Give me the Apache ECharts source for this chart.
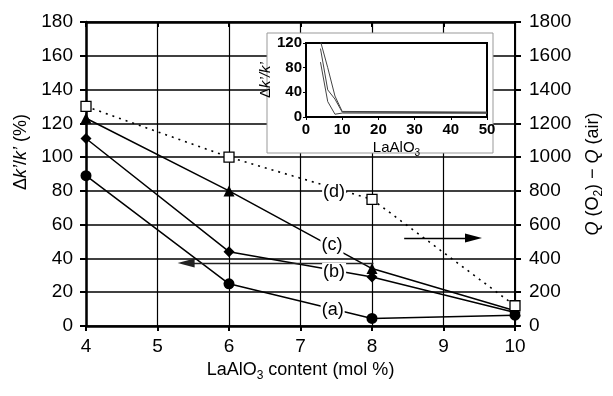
<!DOCTYPE html>
<html>
<head>
<meta charset="utf-8">
<script src="https://cdn.jsdelivr.net/npm/echarts@6/dist/echarts.min.js"></script>
<style>html,body{margin:0;padding:0;background:#fff}#c{width:613px;height:396px}</style>
</head>
<body>
<div id="c"></div>
<script>
// ---- data ----
const xVals = [4, 6, 8, 10];
const seriesA = [89, 25, 4.5, 6.4];     // (a) Δk'/k' %
const seriesB = [111, 44, 29, 8];       // (b)
const seriesC = [123, 80, 34, 9];       // (c)
const seriesD = [1300, 1000, 750, 120]; // (d) Q(O2)-Q(air), right axis
const leftTicks = [0, 180, 20];
const rightTicks = [0, 1800, 200];
const xTicks = [4, 10, 1];
// inset (wide range) data
const insetX = [4, 6, 8, 10, 50];
const insetA = [89, 25, 4.5, 6.4, 6];
const insetB = [111, 44, 29, 8, 7];
const insetC = [123, 80, 34, 9, 8];
// annotations (data coordinates)
const labelsLeft = [['(a)', 7.45, 9.5], ['(b)', 7.47, 32], ['(c)', 7.44, 48]];
const labelsRight = [['(d)', 7.47, 795]];
const arrowLeft = [[8.02, 37.3], [5.4, 37.3]];
const arrowRight = [[8.45, 521], [9.42, 521]];

const FONT = 'Liberation Sans, Arial, sans-serif';
const chart = echarts.init(document.getElementById('c'), null, {renderer: 'canvas'});

function pts(xs, ys) { return xs.map((x, i) => [x, ys[i]]); }
const annLabel = {show: true, position: 'inside', formatter: p => p.name, fontSize: 18, fontFamily: FONT, color: '#000', opacity: 1, backgroundColor: '#fff', padding: [0, 1]};

const option = {
  animation: false,
  backgroundColor: '#fff',
  textStyle: {fontFamily: FONT, color: '#000'},
  graphic: [{
    type: 'rect', z: 10,
    shape: {x: 267, y: 33, width: 226, height: 120},
    style: {fill: '#fff', stroke: '#999', lineWidth: 1}
  }],
  grid: [
    {left: 86, right: 93, top: 22, bottom: 70},
    {left: 306, right: 126, top: 43, bottom: 279, show: true, borderColor: '#000', borderWidth: 2, backgroundColor: '#fff', z: 11}
  ],
  xAxis: [
    {
      type: 'value', gridIndex: 0, min: xTicks[0], max: xTicks[1], interval: xTicks[2],
      name: '{n|LaAlO}{s|3}{n| content (mol %)}', nameLocation: 'middle', nameGap: 31,
      nameTextStyle: {rich: {n: {fontSize: 18, lineHeight: 24, fontFamily: FONT, color: '#000'}, s: {fontSize: 12, lineHeight: 12, verticalAlign: 'bottom', fontFamily: FONT, color: '#000'}}},
      axisLine: {onZero: false, lineStyle: {color: '#000', width: 2.5}},
      axisTick: {length: 5, lineStyle: {color: '#000', width: 2}},
      axisLabel: {fontSize: 19, color: '#000', margin: 11, fontFamily: FONT},
      splitLine: {show: true, lineStyle: {color: '#000', width: 1.2}}
    },
    {
      type: 'value', gridIndex: 0, position: 'top', min: xTicks[0], max: xTicks[1], interval: xTicks[2],
      axisLine: {onZero: false, lineStyle: {color: '#000', width: 2.5}},
      axisTick: {inside: true, length: 5, lineStyle: {color: '#000', width: 2}},
      axisLabel: {show: false}, splitLine: {show: false}
    },
    {
      type: 'value', gridIndex: 1, min: 0, max: 50, interval: 10, z: 12,
      name: '{n|LaAlO}{s|3}', nameLocation: 'middle', nameGap: 21,
      nameTextStyle: {rich: {n: {fontSize: 15, lineHeight: 20, fontFamily: FONT, color: '#000'}, s: {fontSize: 10, lineHeight: 10, verticalAlign: 'bottom', fontFamily: FONT, color: '#000'}}},
      axisLine: {onZero: false, lineStyle: {color: '#000', width: 2}},
      axisTick: {length: 3, lineStyle: {color: '#000', width: 1}},
      axisLabel: {fontSize: 15, fontWeight: 'bold', color: '#000', margin: 5, fontFamily: FONT},
      splitLine: {show: false}
    }
  ],
  yAxis: [
    {
      type: 'value', gridIndex: 0, min: leftTicks[0], max: leftTicks[1], interval: leftTicks[2],
      name: '{n|Δ}{i|k’}{n|/}{i|k’}{n| (%)}', nameLocation: 'middle', nameGap: 49, nameRotate: 90,
      nameTextStyle: {padding: [0, 0, 0, 44], rich: {n: {fontSize: 18, fontFamily: FONT, color: '#000'}, i: {fontSize: 18, fontStyle: 'italic', fontFamily: FONT, color: '#000'}}},
      axisLine: {onZero: false, lineStyle: {color: '#000', width: 2.5}},
      axisTick: {length: 6, lineStyle: {color: '#000', width: 2}},
      axisLabel: {fontSize: 19, color: '#000', margin: 13, fontFamily: FONT},
      splitLine: {show: true, lineStyle: {color: '#000', width: 1.5}}
    },
    {
      type: 'value', gridIndex: 0, position: 'right', min: rightTicks[0], max: rightTicks[1], interval: rightTicks[2],
      name: '{i|Q}{n| (O}{s|2}{n|) − }{i|Q}{n| (air)}', nameLocation: 'middle', nameGap: 66, nameRotate: 90,
      nameTextStyle: {rich: {n: {fontSize: 18, lineHeight: 24, fontFamily: FONT, color: '#000'}, i: {fontSize: 18, lineHeight: 24, fontStyle: 'italic', fontFamily: FONT, color: '#000'}, s: {fontSize: 12, lineHeight: 12, verticalAlign: 'bottom', fontFamily: FONT, color: '#000'}}},
      axisLine: {show: true, onZero: false, lineStyle: {color: '#000', width: 2}},
      axisTick: {show: true, length: 6, lineStyle: {color: '#000', width: 2}},
      axisLabel: {fontSize: 19, color: '#000', margin: 14, fontFamily: FONT, formatter: v => String(v)},
      splitLine: {show: false}
    },
    {
      type: 'value', gridIndex: 1, min: 0, max: 120, interval: 40, z: 12,
      name: '{n|Δ}{i|k’/k’}', nameLocation: 'middle', nameGap: 27, nameRotate: 90,
      nameTextStyle: {rich: {n: {fontSize: 15, fontFamily: FONT, color: '#000'}, i: {fontSize: 15, fontStyle: 'italic', fontFamily: FONT, color: '#000'}}},
      axisLine: {onZero: false, lineStyle: {color: '#000', width: 2}},
      axisTick: {length: 3, lineStyle: {color: '#000', width: 1}},
      axisLabel: {fontSize: 15, fontWeight: 'bold', color: '#000', margin: 4, fontFamily: FONT},
      splitLine: {show: false}
    }
  ],
  series: [
    {
      name: '(a)', type: 'line', xAxisIndex: 0, yAxisIndex: 0, z: 3,
      data: pts(xVals, seriesA), symbol: 'circle', symbolSize: 11,
      lineStyle: {color: '#000', width: 1.5}, itemStyle: {color: '#000'}
    },
    {
      name: '(b)', type: 'line', xAxisIndex: 0, yAxisIndex: 0, z: 3,
      data: pts(xVals, seriesB), symbol: 'diamond', symbolSize: 11,
      lineStyle: {color: '#000', width: 1.5}, itemStyle: {color: '#000'},
      markLine: {
        silent: true, symbol: ['none', 'triangle'], symbolSize: [9, 17],
        label: {show: false}, lineStyle: {color: '#222', width: 1.3, type: 'solid'},
        data: [[{coord: arrowLeft[0]}, {coord: arrowLeft[1]}]]
      }
    },
    {
      name: '(c)', type: 'line', xAxisIndex: 0, yAxisIndex: 0, z: 3,
      data: pts(xVals, seriesC), symbol: 'triangle', symbolSize: 11,
      lineStyle: {color: '#000', width: 1.5}, itemStyle: {color: '#000'}
    },
    {
      name: '(d)', type: 'line', xAxisIndex: 0, yAxisIndex: 1, z: 3,
      data: pts(xVals, seriesD), symbol: 'rect', symbolSize: 10,
      lineStyle: {color: '#000', width: 1.6, type: [2, 5]},
      itemStyle: {color: '#fff', borderColor: '#000', borderWidth: 1.3},
      markLine: {
        silent: true, symbol: ['none', 'triangle'], symbolSize: [9, 17],
        label: {show: false}, lineStyle: {color: '#000', width: 1.3, type: 'solid'},
        data: [[{coord: arrowRight[0]}, {coord: arrowRight[1]}]]
      }
    },
    {
      type: 'scatter', xAxisIndex: 0, yAxisIndex: 0, z: 5, symbolSize: 0, silent: true,
      itemStyle: {opacity: 1},
      data: labelsLeft.map(l => ({value: [l[1], l[2]], name: l[0]})),
      label: annLabel
    },
    {
      type: 'scatter', xAxisIndex: 0, yAxisIndex: 1, z: 5, symbolSize: 0, silent: true,
      itemStyle: {opacity: 1},
      data: labelsRight.map(l => ({value: [l[1], l[2]], name: l[0]})),
      label: annLabel
    },
    {type: 'line', xAxisIndex: 2, yAxisIndex: 2, z: 12, data: pts(insetX, insetA), symbol: 'none', lineStyle: {color: '#444', width: 1}},
    {type: 'line', xAxisIndex: 2, yAxisIndex: 2, z: 12, data: pts(insetX, insetB), symbol: 'none', lineStyle: {color: '#444', width: 1}},
    {type: 'line', xAxisIndex: 2, yAxisIndex: 2, z: 12, data: pts(insetX, insetC), symbol: 'none', lineStyle: {color: '#444', width: 1}}
  ]
};
chart.setOption(option);
</script>
</body>
</html>
